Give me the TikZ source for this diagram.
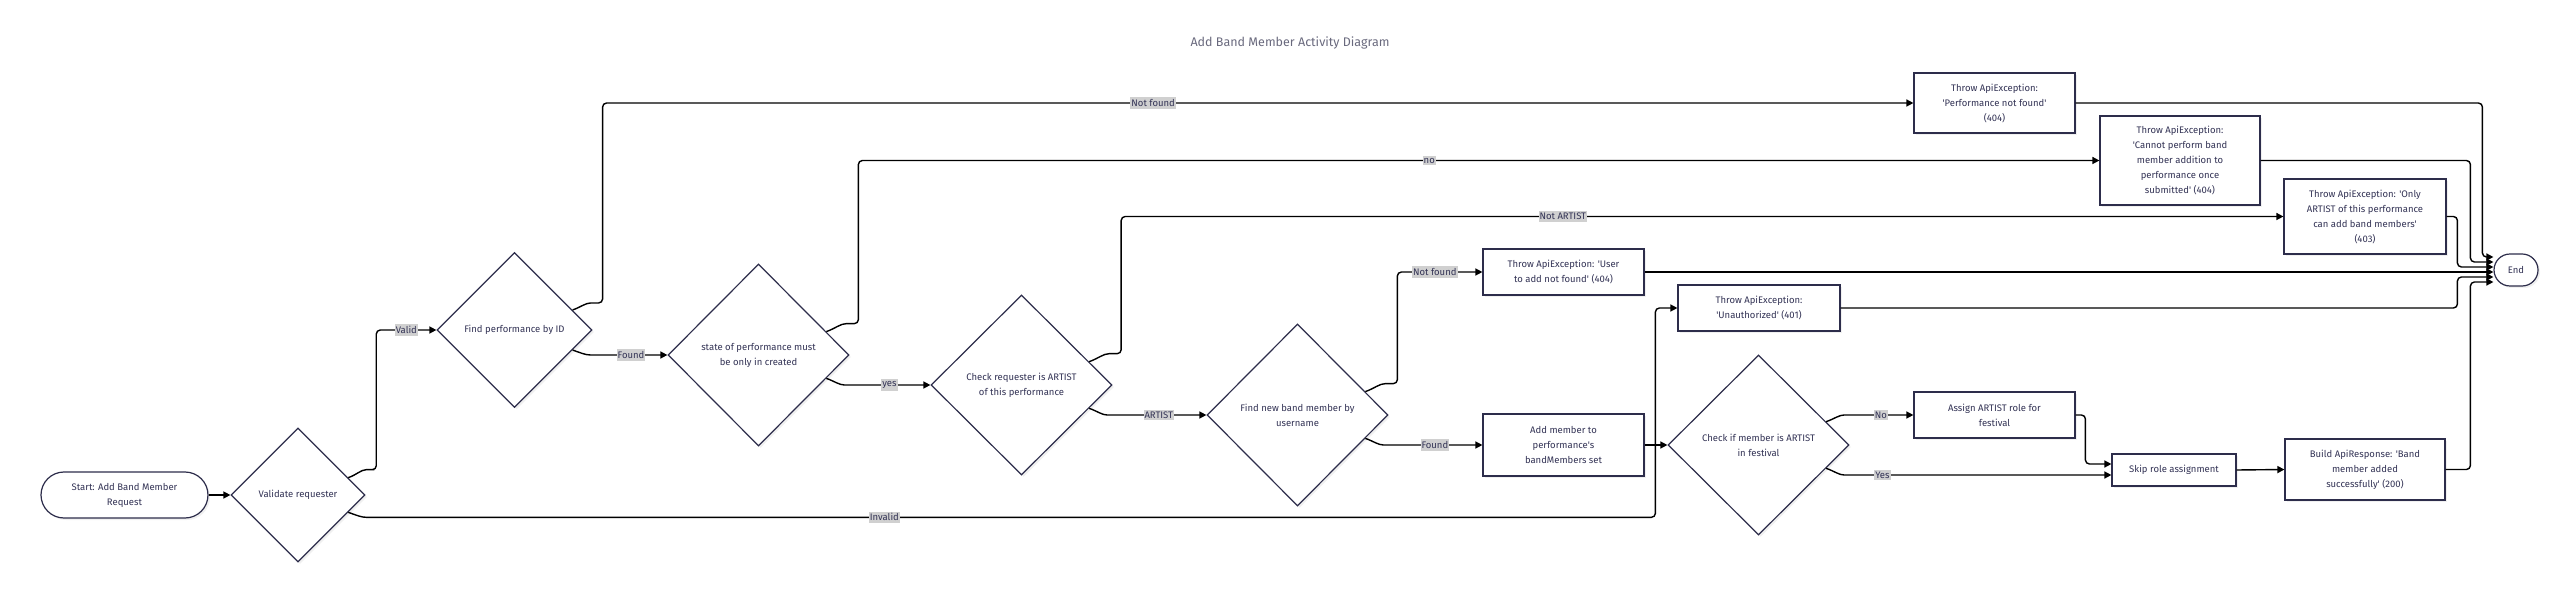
\documentclass[tikz,border=0pt]{standalone}
\usepackage{fontspec}
\setmainfont{Fira Sans}
\usetikzlibrary{shapes.geometric,arrows.meta,shadows}
\definecolor{inknavy}{RGB}{51,51,85}
\definecolor{edgenavy}{RGB}{45,45,75}
\definecolor{labelgray}{RGB}{208,208,208}
\definecolor{titlegray}{RGB}{105,105,125}
\newcommand{\sqt}{\textquotesingle}

\tikzset{
  shapebase/.style={draw=edgenavy, line width=1.2pt, fill=white, text=inknavy, align=center,
    font=\fontsize{9.5}{15}\selectfont, inner sep=0pt,
    drop shadow={shadow xshift=2pt, shadow yshift=-2pt, opacity=0.12}},
  box/.style={shapebase, rectangle},
  decision/.style={shapebase, diamond},
  terminal/.style={shapebase, rectangle, rounded corners=#1},
  flow/.style={draw=black, line width=1.4pt, rounded corners=4pt, -{Triangle[length=7pt,width=7pt]}},
  lbl/.style={fill=labelgray, text=inknavy, sharp corners, font=\fontsize{9.5}{11}\selectfont,
    inner xsep=1pt, inner ysep=2pt}
}

\begin{document}
\begin{tikzpicture}[x=1pt,y=1pt]
\useasboundingbox (0,0) rectangle (2555,-593);

\node[text=titlegray, font=\fontsize{12.5}{14}\selectfont] (title) at (1290,-43) {Add Band Member Activity Diagram};

\node[terminal=23pt, minimum width=167pt, minimum height=46pt] (start) at (124.5,-495) {Start: Add Band Member\\Request};
\node[decision, minimum width=134pt, minimum height=134pt] (validate) at (298,-495) {Validate requester};
\node[decision, minimum width=155pt, minimum height=155pt] (findperf) at (514.5,-330) {Find performance by ID};
\node[decision, minimum width=181pt, minimum height=182pt] (statecheck) at (758.5,-355) {state of performance must\\be only in created};
\node[decision, minimum width=181pt, minimum height=180pt] (checkartist) at (1021.5,-385) {Check requester is ARTIST\\of this performance};
\node[decision, minimum width=181pt, minimum height=182pt] (findmember) at (1297.5,-415) {Find new band member by\\username};
\node[box, minimum width=161pt, minimum height=46pt] (usernf) at (1563.5,-272) {Throw ApiException: \sqt User\\to add not found\sqt{} (404)};
\node[box, minimum width=161pt, minimum height=62pt] (addmember) at (1563.5,-445) {Add member to\\performance\sqt s\\bandMembers set};
\node[box, minimum width=162pt, minimum height=46pt] (unauth) at (1759,-308) {Throw ApiException:\\\sqt Unauthorized\sqt{} (401)};
\node[decision, minimum width=181pt, minimum height=180pt] (festcheck) at (1758.5,-445) {Check if member is ARTIST\\in festival};
\node[box, minimum width=161pt, minimum height=46pt] (assignrole) at (1994.5,-415) {Assign ARTIST role for\\festival};
\node[box, minimum width=124pt, minimum height=32pt] (skiprole) at (2174,-470) {Skip role assignment};
\node[box, minimum width=160pt, minimum height=61pt] (buildresp) at (2365,-469.5) {Build ApiResponse: \sqt Band\\member added\\successfully\sqt{} (200)};
\node[box, minimum width=161pt, minimum height=60pt] (perfnf) at (1994.5,-103) {Throw ApiException:\\\sqt Performance not found\sqt\\(404)};
\node[box, minimum width=160pt, minimum height=89pt] (submitted) at (2180,-160.5) {Throw ApiException:\\\sqt Cannot perform band\\member addition to\\performance once\\submitted\sqt{} (404)};
\node[box, minimum width=162pt, minimum height=75pt] (onlyartist) at (2365,-216.5) {Throw ApiException: \sqt Only\\ARTIST of this performance\\can add band members\sqt\\(403)};
\node[terminal=16pt, minimum width=44pt, minimum height=32pt] (endnode) at (2516,-270) {End};

\coordinate (skiphigh) at ([yshift=6pt]skiprole.west);
\coordinate (skiplow) at ([yshift=-5pt]skiprole.west);
\coordinate (endA) at ([yshift=13pt]endnode.west);
\coordinate (endB) at ([yshift=8pt]endnode.west);
\coordinate (endC) at ([yshift=3pt]endnode.west);
\coordinate (endE) at ([yshift=-7pt]endnode.west);
\coordinate (endF) at ([yshift=-12pt]endnode.west);

\draw[flow] (start.east) -- (validate.west);
\draw[flow] (validate.19) to[out=20,in=180] ++(22,8) -- ++(6,0) |- node[lbl,pos=0.75]{Valid} (findperf.west);
\draw[flow] (validate.-19) to[out=-20,in=180] ++(22,-5) -| node[lbl,pos=0.2]{Invalid} ([xshift=-22pt]unauth.west) -- (unauth.west);
\draw[flow] (findperf.19) to[out=20,in=180] ++(22,7) -- ++(8,0) |- node[lbl,pos=0.71]{Not found} (perfnf.west);
\draw[flow] (findperf.-19) to[out=-20,in=180] ([xshift=22pt]findperf.-19 |- statecheck.west) -- node[lbl]{Found} (statecheck.west);
\draw[flow] (statecheck.19) to[out=20,in=180] ++(24,8) -- ++(8,0) |- node[lbl,pos=0.73]{no} (submitted.west);
\draw[flow] (statecheck.-19) to[out=-20,in=180] ([xshift=22pt]statecheck.-19 |- checkartist.west) -- node[lbl]{yes} (checkartist.west);
\draw[flow] (checkartist.19) to[out=20,in=180] ++(24,8) -- ++(8,0) |- node[lbl,pos=0.69]{Not ARTIST} (onlyartist.west);
\draw[flow] (checkartist.-19) to[out=-20,in=180] ([xshift=22pt]checkartist.-19 |- findmember.west) -- node[lbl]{ARTIST} (findmember.west);
\draw[flow] (findmember.19) to[out=20,in=180] ++(24,8) -- ++(8,0) |- node[lbl,pos=0.72]{Not found} (usernf.west);
\draw[flow] (findmember.-19) to[out=-20,in=180] ([xshift=22pt]findmember.-19 |- addmember.west) -- node[lbl]{Found} (addmember.west);
\draw[flow] (addmember.east) -- (festcheck.west);
\draw[flow] (festcheck.19) to[out=20,in=180] ([xshift=22pt]festcheck.19 |- assignrole.west) -- node[lbl]{No} (assignrole.west);
\draw[flow] (festcheck.-19) to[out=-20,in=180] ([xshift=22pt]festcheck.-19 |- skiplow) -- node[lbl,pos=0.13]{Yes} (skiplow);
\draw[flow] (assignrole.east) -| ([xshift=-26pt]skiphigh) -- (skiphigh);
\draw[flow] (skiprole.east) -- (buildresp.west);

\draw[flow] (perfnf.east) -| ([xshift=-11pt]endA) -- (endA);
\draw[flow] (submitted.east) -| ([xshift=-23pt]endB) -- (endB);
\draw[flow] (onlyartist.east) -| ([xshift=-36pt]endC) -- (endC);
\draw[flow] (usernf.east) -- (usernf.east -| endnode.west);
\draw[flow] (unauth.east) -| ([xshift=-36pt]endE) -- (endE);
\draw[flow] (buildresp.east) -| ([xshift=-23pt]endF) -- (endF);
\end{tikzpicture}
\end{document}
